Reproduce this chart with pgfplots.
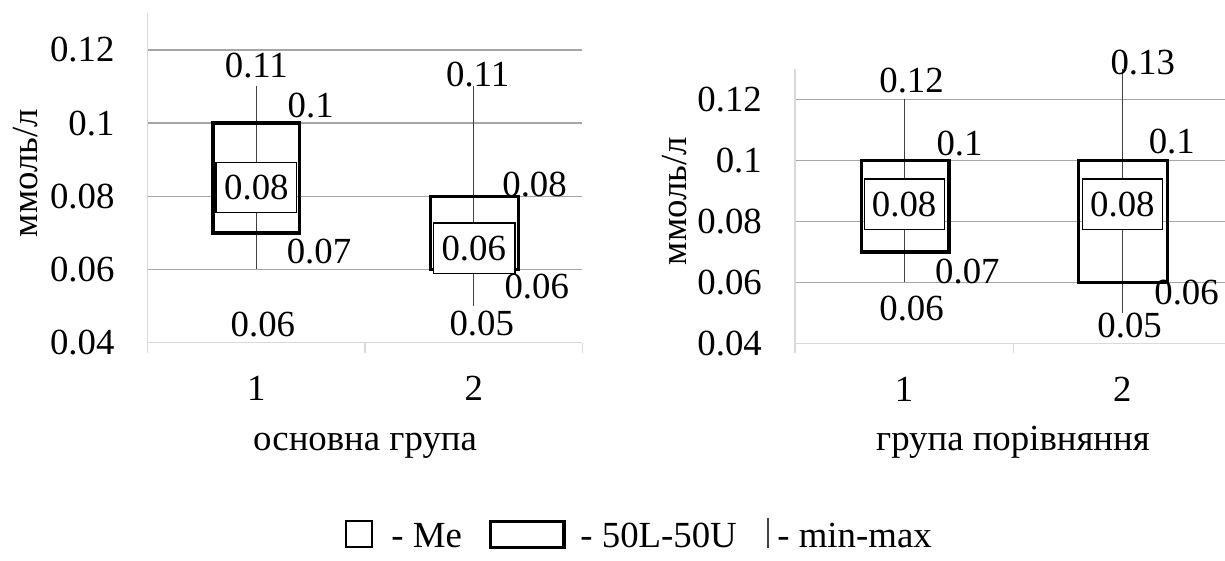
\documentclass[border=0pt]{standalone}
\usepackage{fontspec}
\setmainfont{Liberation Serif}
\usepackage{pgfplots}
\pgfplotsset{compat=1.18}
\definecolor{gridc}{HTML}{A6A6A6}
\definecolor{axc}{HTML}{D9D9D9}
\definecolor{whc}{HTML}{404040}
\newcommand{\fs}{\fontsize{18.4pt}{22pt}\selectfont}
\pgfplotsset{
 boxax/.style={
  scale only axis, clip=false,
  xmin=0.5, ymin=0.04, ymax=0.13,
  axis x line*=bottom, axis y line*=left,
  axis line style={axc, line width=0.7pt},
  ytick={0.06,0.08,0.1,0.12}, yticklabels={0.06,0.08,0.1,0.12},
  extra y ticks={0.04}, extra y tick labels={0.04},
  extra y tick style={grid=none},
  ymajorgrids, major grid style={gridc, line width=0.7pt},
  xtick={1,2}, xticklabels={1,2},
  major tick length=0pt,
  extra x ticks={0.5,1.5,2.5}, extra x tick labels={},
  extra x tick style={major tick length=5pt, tick align=outside,
     tick style={axc, line width=0.7pt}, grid=none},
  /pgf/number format/assume math mode=true,
  ticklabel style={font=\fs},
  yticklabel style={anchor=east, inner sep=0pt, xshift=-16.4pt},
  xticklabel style={anchor=base, inner sep=0pt, yshift=-29pt},
  label style={font=\fs},
 },
 whisk/.style={whc, line width=0.55pt, no markers},
 qbox/.style={black, line width=1.65pt, no markers, line join=miter},
 mebox/.style={black, line width=0.65pt, fill=white, no markers},
}
\tikzset{lbl/.style={inner sep=0pt, font=\fs, anchor=center}}
\begin{document}
\begin{tikzpicture}
\useasboundingbox (0,0) rectangle (612.5pt,280.5pt);
% left panel
\begin{axis}[boxax, at={(73.85pt,109.15pt)}, anchor=south west,
  width=217.35pt, height=164.7pt, xmax=2.5,
  ylabel={ммоль/л}, xlabel={основна група},
  ylabel style={at={(axis description cs:-0.28,0.515)}, rotate=0, anchor=center},
  xlabel style={at={(axis description cs:0.5,-0.326)}, anchor=base}]
\addplot[whisk] coordinates {(1,0.06) (1,0.11)};
\addplot[whisk] coordinates {(2,0.05) (2,0.11)};
\addplot[qbox] coordinates {(0.8,0.07) (1.2,0.07) (1.2,0.1) (0.8,0.1)} -- cycle;
\addplot[qbox] coordinates {(1.8,0.06) (2.205,0.06) (2.205,0.08) (1.8,0.08)} -- cycle;
\addplot[mebox] coordinates {(0.814,0.0755) (1.185,0.0755) (1.185,0.0893) (0.814,0.0893)} -- cycle;
\addplot[mebox] coordinates {(1.814,0.0589) (2.19,0.0589) (2.19,0.0727) (1.814,0.0727)} -- cycle;
\node[lbl] at (axis cs:1.0,0.0824) {0.08};
\node[lbl] at (axis cs:2.0,0.0658) {0.06};
\node[lbl] at (axis cs:1.0,0.1157) {0.11};
\node[lbl] at (axis cs:1.25,0.1048) {0.1};
\node[lbl] at (axis cs:1.288,0.065) {0.07};
\node[lbl] at (axis cs:1.03,0.045) {0.06};
\node[lbl] at (axis cs:2.018,0.1132) {0.11};
\node[lbl] at (axis cs:2.28,0.0832) {0.08};
\node[lbl] at (axis cs:2.29,0.0554) {0.06};
\node[lbl] at (axis cs:2.037,0.0453) {0.05};
\end{axis}
% right panel
\begin{axis}[boxax, at={(397.5pt,108.75pt)}, anchor=south west,
  width=215pt, height=137.25pt, xmax=2.47,
  ylabel={ммоль/л}, xlabel={група порівняння},
  ylabel style={at={(axis description cs:-0.281,0.519)}, rotate=0, anchor=center},
  xlabel style={at={(axis description cs:0.507,-0.388)}, anchor=base}]
\addplot[whisk] coordinates {(1,0.06) (1,0.12)};
\addplot[whisk] coordinates {(2,0.05) (2,0.13)};
\addplot[qbox] coordinates {(0.806,0.07) (1.205,0.07) (1.205,0.1) (0.806,0.1)} -- cycle;
\addplot[qbox] coordinates {(1.8,0.06) (2.207,0.06) (2.207,0.1) (1.8,0.1)} -- cycle;
\addplot[mebox] coordinates {(0.818,0.0773) (1.186,0.0773) (1.186,0.0939) (0.818,0.0939)} -- cycle;
\addplot[mebox] coordinates {(1.816,0.0773) (2.184,0.0773) (2.184,0.0939) (1.816,0.0939)} -- cycle;
\node[lbl] at (axis cs:1.0,0.0856) {0.08};
\node[lbl] at (axis cs:2.0,0.0856) {0.08};
\node[lbl] at (axis cs:1.034,0.1262) {0.12};
\node[lbl] at (axis cs:1.254,0.1055) {0.1};
\node[lbl] at (axis cs:1.29,0.0635) {0.07};
\node[lbl] at (axis cs:1.034,0.0514) {0.06};
\node[lbl] at (axis cs:2.093,0.1322) {0.13};
\node[lbl] at (axis cs:2.226,0.1062) {0.1};
\node[lbl] at (axis cs:2.294,0.0568) {0.06};
\node[lbl] at (axis cs:2.033,0.046) {0.05};
\end{axis}
% legend
\draw[black, line width=0.8pt] (173pt,7pt) rectangle (186pt,20pt);
\node[font=\fs, inner sep=0pt, anchor=base west] at (195.5pt,6.5pt) {- Me};
\draw[black, line width=1.65pt] (245.4pt,6.8pt) rectangle (282pt,19.6pt);
\node[font=\fs, inner sep=0pt, anchor=base west] at (290pt,6.5pt) {- 50L-50U};
\draw[whc, line width=0.55pt] (384pt,6.5pt) -- (384pt,21.5pt);
\node[font=\fs, inner sep=0pt, anchor=base west] at (388.5pt,6.5pt) {- min-max};
\end{tikzpicture}
\end{document}
